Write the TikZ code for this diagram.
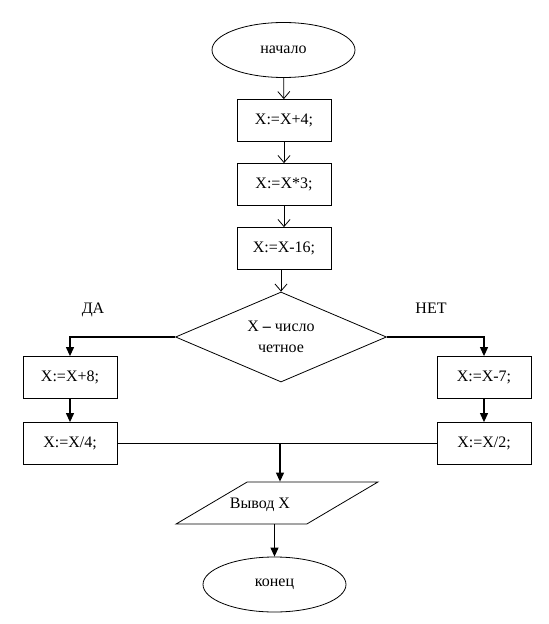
\documentclass[tikz,border=0pt]{standalone}
\usepackage{fontspec}
\setmainfont{Liberation Serif}
\usetikzlibrary{shapes.geometric,arrows.meta}
\tikzset {>={Straight Barb[length=7bp,width=12bp]}}
\tikzset{
  block/.style={draw,rectangle,minimum width=94bp,minimum height=42bp,inner sep=0pt},
  term/.style={draw,ellipse,minimum width=143bp,minimum height=55bp,inner sep=0pt},
  cond/.style={draw,diamond,minimum width=211bp,minimum height=90bp,inner sep=0pt,aspect=2.34,align=center},
  io/.style={draw,trapezium,trapezium left angle=40,trapezium right angle=140,trapezium stretches=true,minimum width=202bp,minimum height=42bp},
  flow/.style={->,line width=0.8bp},
  boldflow/.style={-{Triangle[length=9bp,width=8bp]},line width=1.1bp}
}

\begin{document}
\begin{tikzpicture}[x=1bp,y=-1bp,line width=0.8bp,font={\fontsize{16bp}{21bp}\selectfont}]
\useasboundingbox (0,0) rectangle (549,624);

\node[term] (start) at (283.5,50) {начало};
\node[block] (b1) at (284,120.5) {X:=X+4;};
\node[block] (b2) at (284,184.5) {X:=X*3;};
\node[block] (b3) at (284,248.5) {X:=X-16;};
\node[cond] (c) at (281,337) {X {\bfseries –} число\\четное};
\node (yes) at (93,310) {ДА};
\node (no) at (431,308) {НЕТ};
\node[block] (l1) at (70,377.5) {X:=X+8;};
\node[block] (l2) at (70,443.5) {X:=X/4;};
\node[block] (r1) at (484,377.5) {X:=X-7;};
\node[block] (r2) at (484,443.5) {X:=X/2;};
\node[io] (out) at (277,503) {};
\node (outtext) at (260,505) {Вывод X};
\node[term] (stop) at (274.5,584.5) {конец};
\coordinate (m) at (280,443.5);

\draw[flow] (start) -- (b1);
\draw[flow] (b1) -- (b2);
\draw[flow] (b2) -- (b3);
\draw[flow] (c.north |- b3.south) -- (c.north);
\draw[boldflow] (c.west) -| (l1);
\draw[boldflow] (c.east) -| (r1);
\draw[boldflow] (l1) -- (l2);
\draw[boldflow] (r1) -- (r2);
\draw (l2.east) -- (r2.west);
\draw[boldflow] (m) -- (m |- out.north);
\draw[boldflow] (stop.north |- out.south) -- (stop.north);
\end{tikzpicture}
\end{document}
